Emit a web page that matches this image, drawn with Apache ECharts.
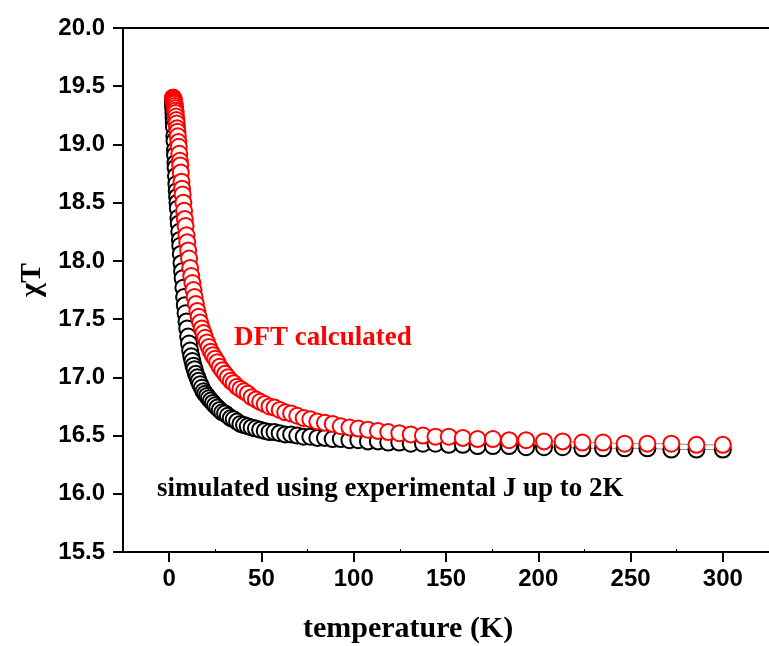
<!DOCTYPE html>
<html>
<head>
<meta charset="utf-8">
<script src="https://cdn.jsdelivr.net/npm/echarts@6/dist/echarts.min.js"></script>
<style>
  html, body { margin: 0; padding: 0; background: #fff; }
  #chart { width: 769px; height: 646px; }
</style>
</head>
<body>
<div id="chart"></div>
<script>
// temperature points (K)
const temps = [
  2.0, 2.1, 2.2, 2.3, 2.4, 2.5, 2.6, 2.8, 2.9, 3.1,
  3.2, 3.4, 3.5, 3.7, 3.9, 4.1, 4.3, 4.5, 4.7, 5.0,
  5.2, 5.5, 5.8, 6.0, 6.3, 6.7, 7.0, 7.3, 7.7, 8.1,
  8.5, 8.9, 9.4, 9.8, 10.3, 10.8, 11.4, 12.0, 12.6, 13.2,
  13.8, 14.5, 15.3, 16.0, 16.8, 17.7, 18.6, 19.5, 20.5, 21.5,
  22.6, 23.7, 24.9, 26.1, 27.4, 28.8, 30.3, 31.8, 33.4, 35.0,
  36.8, 38.6, 40.6, 42.6, 44.7, 47.0, 49.3, 51.8, 54.4, 57.1,
  59.9, 62.9, 66.1, 69.4, 72.9, 76.5, 80.3, 84.4, 88.6, 93.0,
  97.7, 102.5, 107.7, 113.1, 118.7, 124.7, 130.9, 137.5, 144.3, 151.5,
  159.1, 167.1, 175.4, 184.2, 193.4, 203.1, 213.2, 223.9, 235.1, 246.8,
  259.1, 272.1, 285.7, 300.0
];

// DFT calculated (red)
const chiDft = [
  19.40, 19.40, 19.40, 19.39, 19.39, 19.38, 19.37, 19.36, 19.35, 19.33,
  19.31, 19.29, 19.27, 19.24, 19.21, 19.18, 19.14, 19.11, 19.07, 19.02,
  18.98, 18.92, 18.86, 18.82, 18.76, 18.68, 18.62, 18.57, 18.50, 18.43,
  18.36, 18.30, 18.22, 18.16, 18.09, 18.02, 17.94, 17.87, 17.81, 17.75,
  17.69, 17.63, 17.57, 17.52, 17.47, 17.42, 17.38, 17.34, 17.30, 17.26,
  17.22, 17.19, 17.16, 17.13, 17.09, 17.06, 17.03, 17.00, 16.97, 16.95,
  16.92, 16.90, 16.88, 16.86, 16.83, 16.81, 16.79, 16.77, 16.75, 16.74,
  16.72, 16.70, 16.69, 16.67, 16.65, 16.64, 16.62, 16.61, 16.60, 16.58,
  16.57, 16.56, 16.55, 16.54, 16.53, 16.52, 16.51, 16.50, 16.49, 16.49,
  16.48, 16.47, 16.47, 16.46, 16.46, 16.45, 16.45, 16.44, 16.44, 16.43,
  16.43, 16.43, 16.42, 16.42
];

// simulated with experimental J (black)
const chiSim = [
  19.37, 19.34, 19.31, 19.27, 19.23, 19.19, 19.15, 19.07, 19.03, 18.95,
  18.91, 18.84, 18.80, 18.73, 18.66, 18.60, 18.55, 18.50, 18.45, 18.37,
  18.32, 18.25, 18.18, 18.13, 18.06, 17.98, 17.91, 17.85, 17.77, 17.69,
  17.62, 17.55, 17.48, 17.42, 17.35, 17.29, 17.23, 17.18, 17.14, 17.10,
  17.07, 17.03, 17.00, 16.97, 16.94, 16.91, 16.88, 16.86, 16.84, 16.82,
  16.80, 16.78, 16.76, 16.74, 16.72, 16.70, 16.69, 16.67, 16.65, 16.64,
  16.62, 16.60, 16.59, 16.58, 16.57, 16.56, 16.55, 16.54, 16.53, 16.53,
  16.52, 16.51, 16.51, 16.50, 16.49, 16.49, 16.48, 16.48, 16.47, 16.47,
  16.46, 16.46, 16.45, 16.45, 16.44, 16.44, 16.43, 16.43, 16.43, 16.42,
  16.42, 16.41, 16.41, 16.41, 16.40, 16.40, 16.40, 16.39, 16.39, 16.39,
  16.39, 16.38, 16.38, 16.38
];

const xTicks = [0, 50, 100, 150, 200, 250, 300];
const xMinorTicks = [25, 75, 125, 175, 225, 275];

const sans = 'Liberation Sans, Arial, sans-serif';
const serif = 'Liberation Serif, Times New Roman, serif';

const chart = echarts.init(document.getElementById('chart'));

function toPairs(ys) {
  return temps.map((t, i) => [t, ys[i]]);
}

const option = {
  animation: false,
  backgroundColor: '#fff',
  grid: { left: 123, top: 28, bottom: 94, right: -8, containLabel: false },
  xAxis: [
    {
      type: 'value',
      position: 'bottom',
      min: -25,
      max: 325,
      axisLine: { show: true, onZero: false, lineStyle: { color: '#000', width: 2 } },
      axisTick: { show: true, customValues: xTicks, length: 10, lineStyle: { color: '#000', width: 2 } },
      axisLabel: {
        customValues: xTicks,
        margin: 15,
        fontFamily: sans, fontWeight: 'bold', fontSize: 24, color: '#000'
      },
      splitLine: { show: false }
    },
    {
      // minor ticks between labels
      type: 'value',
      position: 'bottom',
      min: -25,
      max: 325,
      axisLine: { show: false, onZero: false },
      axisTick: { show: true, customValues: xMinorTicks, inside: true, length: 3, lineStyle: { color: '#000', width: 1 } },
      axisLabel: { show: false },
      splitLine: { show: false }
    },
    {
      // top frame line
      type: 'value',
      position: 'top',
      min: -25,
      max: 325,
      axisLine: { show: true, onZero: false, lineStyle: { color: '#000', width: 2 } },
      axisTick: { show: false },
      axisLabel: { show: false },
      splitLine: { show: false }
    }
  ],
  yAxis: {
    type: 'value',
    min: 15.5,
    max: 20,
    interval: 0.5,
    name: 'χT',
    nameLocation: 'middle',
    nameGap: 75,
    nameRotate: 90,
    nameTextStyle: { fontFamily: serif, fontWeight: 'bold', fontSize: 30, color: '#000', padding: [0, 0, 0, 20] },
    axisLine: { show: true, onZero: false, lineStyle: { color: '#000', width: 2 } },
    axisTick: { show: true, length: 10, lineStyle: { color: '#000', width: 2 } },
    axisLabel: {
      margin: 18,
      formatter: v => v.toFixed(1),
      fontFamily: sans, fontWeight: 'bold', fontSize: 24, color: '#000'
    },
    splitLine: { show: false }
  },
  series: [
    {
      name: 'simulated',
      type: 'line',
      xAxisIndex: 0,
      data: toPairs(chiSim),
      symbol: 'emptyCircle',
      symbolSize: 16,
      showAllSymbol: true,
      itemStyle: { color: '#000', borderWidth: 1 },
      lineStyle: { color: '#777', width: 0.8 }
    },
    {
      name: 'DFT',
      type: 'line',
      xAxisIndex: 0,
      data: toPairs(chiDft),
      symbol: 'emptyCircle',
      symbolSize: 16,
      showAllSymbol: true,
      itemStyle: { color: '#ff0000', borderWidth: 1 },
      lineStyle: { color: '#777', width: 0.8 }
    }
  ],
  graphic: [
    {
      type: 'text',
      left: 234,
      top: 325,
      style: { text: 'DFT calculated', fill: '#ff0000', font: 'bold 27px ' + serif }
    },
    {
      type: 'text',
      left: 157,
      top: 476,
      style: { text: 'simulated using experimental J up to 2K', fill: '#000', font: 'bold 27px ' + serif }
    },
    {
      // x axis title
      type: 'text',
      left: 303,
      top: 614,
      style: { text: 'temperature (K)', fill: '#000', font: 'bold 30px ' + serif }
    }
  ]
};

chart.setOption(option);
</script>
</body>
</html>
